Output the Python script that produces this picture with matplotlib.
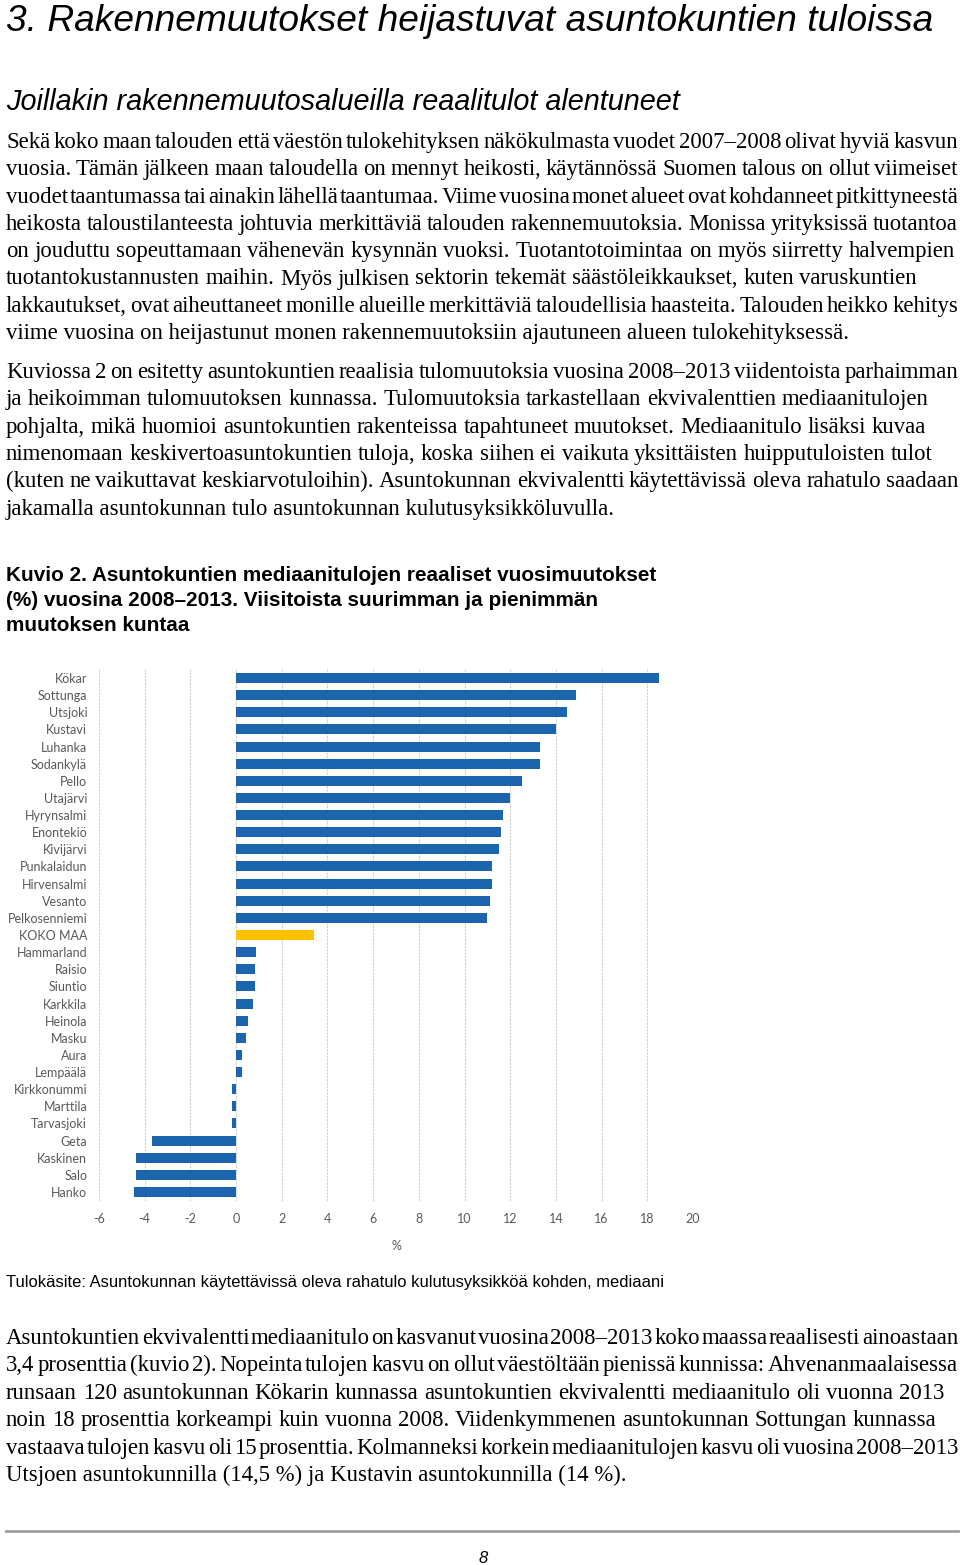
"""
Page 8 of the income report: section heading, body text and Kuvio 2
(real change in median household income 2008-2013, top and bottom 15 municipalities).
"""

import matplotlib

matplotlib.use("Agg")
import matplotlib.pyplot as plt
import numpy as np
from matplotlib import font_manager
from matplotlib.lines import Line2D

W, H = 960, 1565

MUNICIPALITIES = [
    "Kökar", "Sottunga", "Utsjoki", "Kustavi", "Luhanka", "Sodankylä", "Pello",
    "Utajärvi", "Hyrynsalmi", "Enontekiö", "Kivijärvi", "Punkalaidun", "Hirvensalmi",
    "Vesanto", "Pelkosenniemi", "KOKO MAA", "Hammarland", "Raisio", "Siuntio",
    "Karkkila", "Heinola", "Masku", "Aura", "Lempäälä", "Kirkkonummi", "Marttila",
    "Tarvasjoki", "Geta", "Kaskinen", "Salo", "Hanko",
]
CHANGE_PCT = [
    18.5, 14.9, 14.5, 14.0, 13.3, 13.3, 12.5, 12.0, 11.7, 11.6, 11.5, 11.2, 11.2,
    11.1, 11.0, 3.4, 0.88, 0.84, 0.84, 0.74, 0.52, 0.42, 0.25, 0.25, -0.19, -0.19,
    -0.19, -3.7, -4.4, -4.4, -4.45,
]
X_TICKS = list(range(-6, 21, 2))
WHOLE_COUNTRY = "KOKO MAA"

HEADING = "3. Rakennemuutokset heijastuvat asuntokuntien tuloissa"
SUBHEADING = "Joillakin rakennemuutosalueilla reaalitulot alentuneet"

# (line, right edge in px or None for a natural-width last line)
PARA1 = [
    ("Sekä koko maan talouden että väestön tulokehityksen näkökulmasta vuodet 2007–2008 olivat hyviä kasvun", 958),
    ("vuosia. Tämän jälkeen maan taloudella on mennyt heikosti, käytännössä Suomen talous on ollut viimeiset", 958),
    ("vuodet taantumassa tai ainakin lähellä taantumaa. Viime vuosina monet alueet ovat kohdanneet pitkittyneestä", 958),
    ("heikosta taloustilanteesta johtuvia merkittäviä talouden rakennemuutoksia. Monissa yrityksissä tuotantoa", 958),
    ("on jouduttu sopeuttamaan vähenevän kysynnän vuoksi. Tuotantotoimintaa on myös siirretty halvempien", 955),
    ("tuotantokustannusten maihin. Myös julkisen sektorin tekemät säästöleikkaukset, kuten varuskuntien", 917),
    ("lakkautukset, ovat aiheuttaneet monille alueille merkittäviä taloudellisia haasteita. Talouden heikko kehitys", 958),
    ("viime vuosina on heijastunut monen rakennemuutoksiin ajautuneen alueen tulokehityksessä.", None),
]
PARA2 = [
    ("Kuviossa 2 on esitetty asuntokuntien reaalisia tulomuutoksia vuosina 2008–2013 viidentoista parhaimman", 958),
    ("ja heikoimman tulomuutoksen kunnassa. Tulomuutoksia tarkastellaan ekvivalenttien mediaanitulojen", 928),
    ("pohjalta, mikä huomioi asuntokuntien rakenteissa tapahtuneet muutokset. Mediaanitulo lisäksi kuvaa", 926),
    ("nimenomaan keskivertoasuntokuntien tuloja, koska siihen ei vaikuta yksittäisten huipputuloisten tulot", 933),
    ("(kuten ne vaikuttavat keskiarvotuloihin). Asuntokunnan ekvivalentti käytettävissä oleva rahatulo saadaan", 958),
    ("jakamalla asuntokunnan tulo asuntokunnan kulutusyksikköluvulla.", None),
]
PARA3 = [
    ("Asuntokuntien ekvivalentti mediaanitulo on kasvanut vuosina 2008–2013 koko maassa reaalisesti ainoastaan", 958),
    ("3,4 prosenttia (kuvio 2). Nopeinta tulojen kasvu on ollut väestöltään pienissä kunnissa: Ahvenanmaalaisessa", 958),
    ("runsaan 120 asuntokunnan Kökarin kunnassa asuntokuntien ekvivalentti mediaanitulo oli vuonna 2013", 944),
    ("noin 18 prosenttia korkeampi kuin vuonna 2008. Viidenkymmenen asuntokunnan Sottungan kunnassa", 936),
    ("vastaava tulojen kasvu oli 15 prosenttia. Kolmanneksi korkein mediaanitulojen kasvu oli vuosina 2008–2013", 958),
    ("Utsjoen asuntokunnilla (14,5 %) ja Kustavin asuntokunnilla (14 %).", None),
]
FIG_TITLE = [
    "Kuvio 2. Asuntokuntien mediaanitulojen reaaliset vuosimuutokset",
    "(%) vuosina 2008–2013. Viisitoista suurimman ja pienimmän",
    "muutoksen kuntaa",
]
SOURCE_NOTE = "Tulokäsite: Asuntokunnan käytettävissä oleva rahatulo kulutusyksikköä kohden, mediaani"

BLUE = "#1b64ae"
GOLD = "#ffc000"
GREY_TXT = "#595959"
SERIF = "Liberation Serif"
SANS = "Liberation Sans"
CHART_FONT = "Lato"


def _narrow_family() -> str:
    try:
        font_manager.findfont(font_manager.FontProperties(family="Liberation Sans Narrow"),
                              fallback_to_default=False)
        return "Liberation Sans Narrow"
    except ValueError:
        return SANS


def main() -> None:
    fig = plt.figure(figsize=(W / 100, H / 100), dpi=100)
    renderer = fig.canvas.get_renderer()

    def put(x, y, s, **kw):
        return fig.text(x / W, 1 - y / H, s, va="baseline", **kw)

    def width(s, **kw):
        t = fig.text(0, 0, s, **kw)
        w = t.get_window_extent(renderer).width
        t.remove()
        return w

    def fit(s, target, **kw):
        return 10 * target / width(s, fontsize=10, **kw)

    def justify(lines, y0, step, size):
        for i, (line, x1) in enumerate(lines):
            y = y0 + i * step
            if x1 is None:
                put(6, y, line, family=SERIF, fontsize=size)
                continue
            words = line.split(" ")
            ws = [width(w, family=SERIF, fontsize=size) for w in words]
            gap = (x1 - 6 - sum(ws)) / (len(words) - 1)
            x = 6
            for w, wd in zip(words, ws):
                put(x, y, w, family=SERIF, fontsize=size)
                x += wd + gap

    # headings (condensed italic sans if available)
    narrow = _narrow_family()
    hs = fit(HEADING, 931, family=narrow, style="italic")
    put(6, 31, HEADING, family=narrow, style="italic", fontsize=hs)
    ss = fit(SUBHEADING, 680, family=narrow, style="italic")
    put(6, 110, SUBHEADING, family=narrow, style="italic", fontsize=ss)

    body = fit(PARA1[-1][0], 842, family=SERIF)
    justify(PARA1, 148, 27.3, body)
    justify(PARA2, 378, 27.3, body)
    justify(PARA3, 1344, 27.4, body)

    ts = fit(FIG_TITLE[0], 649, family=SANS, weight="bold")
    for i, line in enumerate(FIG_TITLE):
        put(6, 581 + i * 25, line, family=SANS, weight="bold", fontsize=ts)

    ns = fit(SOURCE_NOTE, 655, family=SANS)
    put(6, 1287, SOURCE_NOTE, family=SANS, fontsize=ns)

    # chart
    n = len(MUNICIPALITIES)
    step = (1192 - 678) / (n - 1)
    top, bottom = 678 - step / 2, 1192 + step / 2
    ax = fig.add_axes([99 / W, 1 - bottom / H, (693 - 99) / W, (bottom - top) / H])
    colors = [GOLD if m == WHOLE_COUNTRY else BLUE for m in MUNICIPALITIES]
    ypos = np.arange(n)
    ax.barh(ypos, CHANGE_PCT, height=0.58, color=colors, zorder=3)
    ax.set_ylim(n - 0.5, -0.5)
    ax.set_xlim(X_TICKS[0], X_TICKS[-1])
    ax.set_yticks(ypos)
    ax.set_yticklabels(MUNICIPALITIES)
    ax.set_xticks(X_TICKS)
    ax.set_xticklabels([str(t) for t in X_TICKS])
    ax.grid(axis="x", color="#d0d0d0", lw=0.8, ls=(0, (2, 1)), zorder=0)
    for s in ax.spines.values():
        s.set_visible(False)
    ax.tick_params(length=0, colors=GREY_TXT, labelsize=9)
    ax.tick_params(axis="y", pad=8.5)
    ax.tick_params(axis="x", pad=9)
    for lab in ax.get_xticklabels() + ax.get_yticklabels():
        lab.set_family(CHART_FONT)
    ax.set_xlabel("%", family=CHART_FONT, fontsize=9, color=GREY_TXT, labelpad=11)

    # footer rule and page number
    fig.add_artist(Line2D([6 / W, 958 / W], [1 - 1531 / H] * 2, color="#a0a0a0", lw=2))
    put(483, 1563, "8", family=narrow, style="italic", fontsize=12, ha="center")

    fig.savefig("out.png", dpi=100)
    plt.close(fig)


if __name__ == "__main__":
    main()
